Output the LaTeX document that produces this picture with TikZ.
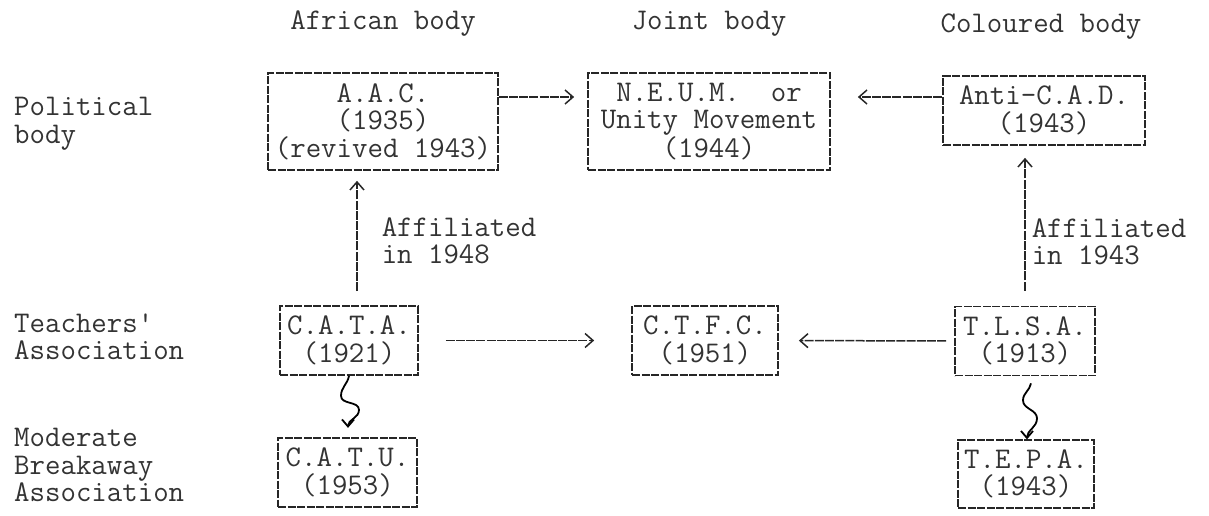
\documentclass[tikz,border=0pt]{standalone}
\usepackage{fontspec}
\usepackage{tikz}
\usetikzlibrary{arrows.meta,calc}

\begin{document}
\begin{tikzpicture}[
    x=1pt,
    y=-1pt,
    every node/.style={font=\fontsize{30}{27.5}\selectfont\ttfamily,
        text=black!80, inner sep=2pt},
    box/.style={draw=black!85, align=center, line width=1.7pt,
        dash pattern=on 8pt off 1.5pt, inner sep=2pt},
    rowlabel/.style={anchor=west, align=left},
    imp/.style={-{Straight Barb[length=8pt,width=14pt]}, draw=black!85,
        line width=1.5pt, dash pattern=on 9pt off 1.2pt},
    squig/.style={-{Straight Barb[length=7pt,width=12pt]}, draw=black,
        line width=1.8pt}
]
    \useasboundingbox (0,0) rectangle (1209,516);

    \node (hafrican) at (383,24) {African body};
    \node (hjoint) at (709,24) {Joint body};
    \node (hcoloured) at (1041,27) {Coloured body};

    \node[rowlabel] (political) at (12,124) {Political\\body};
    \node[rowlabel] (teachers) at (12,337) {Teachers'\\Association};
    \node[rowlabel] (moderate) at (12,465) {Moderate\\Breakaway\\Association};

    \node[box, minimum width=230, minimum height=97] (aac) at (383,121.5)
        {A.A.C.\\(1935)\\(revived 1943)};
    \node[box, minimum width=242, minimum height=97] (neum) at (709,121.5)
        {N.E.U.M.\ \ or\\Unity Movement\\(1944)};
    \node[box, minimum width=202, minimum height=69] (anticad) at (1044,110.5)
        {Anti-C.A.D.\\(1943)};

    \node[box, minimum width=138, minimum height=69] (cata) at (349,340.5)
        {C.A.T.A.\\(1921)};
    \node[box, minimum width=146, minimum height=69] (ctfc) at (705,340.5)
        {C.T.F.C.\\(1951)};
    \node[box, minimum width=140, minimum height=69] (tlsa) at (1025,341)
        {T.L.S.A.\\(1913)};

    \node[box, minimum width=139, minimum height=69] (catu) at (347.5,472.5)
        {C.A.T.U.\\(1953)};
    \node[box, minimum width=136, minimum height=68] (tepa) at (1026,474)
        {T.E.P.A.\\(1943)};

    \coordinate (toprow) at (0,97);
    \coordinate (catatop) at ([xshift=8pt]cata.north);

    \draw[imp, shorten >=13pt] (aac.east |- toprow) -- (neum.west |- toprow);
    \draw[imp, shorten >=27pt] (anticad.west |- toprow) -- (neum.east |- toprow);

    \draw[imp, shorten <=14pt, shorten >=10pt] (catatop) -- (catatop |- aac.south)
        node[pos=0.48, right=22pt, rowlabel, anchor=west] {Affiliated\\in 1948};
    \draw[imp, shorten <=15pt, shorten >=12pt] (tlsa.north) -- (tlsa.north |- anticad.south)
        node[pos=0.40, right=4pt, rowlabel, anchor=west] {Affiliated\\in 1943};

    \draw[imp, shorten <=27pt, shorten >=37pt] (cata) -- (ctfc);
    \draw[imp, shorten <=8pt, shorten >=20pt] (tlsa) -- (ctfc);

    \draw[squig] (cata.south) to[out=-100,in=90] ($(cata.south)+(-8,20)$)
        to[out=-90,in=90] ($(cata.south)+(10,34)$)
        to[out=-90,in=90] ($(cata.south)+(-1,52)$);
    \draw[squig] ($(tlsa.south)+(6,7)$) to[out=-100,in=90] ($(tlsa.south)+(-2,24)$)
        to[out=-90,in=90] ($(tlsa.south)+(12,42)$)
        to[out=-90,in=90] ($(tlsa.south)+(2,63)$);
\end{tikzpicture}
\end{document}
